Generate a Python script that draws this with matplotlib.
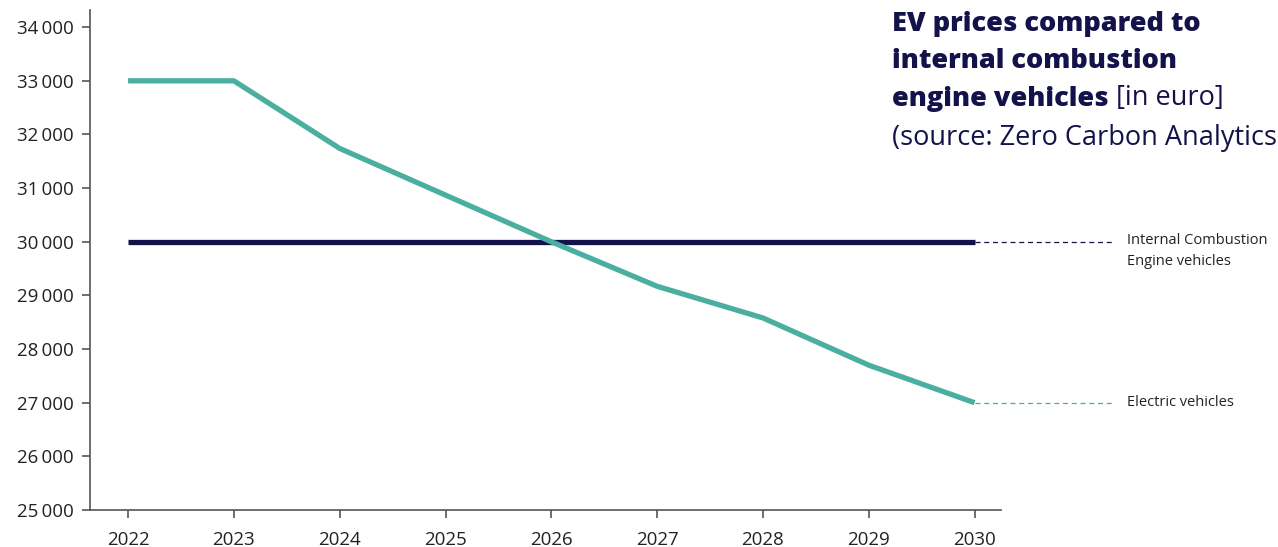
import numpy as np
import matplotlib.pyplot as plt
from matplotlib.ticker import FuncFormatter

plt.rcParams['font.family'] = ['Open Sans', 'DejaVu Sans']

years = [2022, 2023, 2024, 2025, 2026, 2027, 2028, 2029, 2030]
ev_prices = [33000, 33000, 31740, 30870, 30000, 29170, 28580, 27700, 27000]
ice_prices = [30000, 30000, 30000, 30000, 30000, 30000, 30000, 30000, 30000]
y_ticks = list(range(25000, 34001, 1000))

teal = '#4aaf9f'
navy = '#13124a'
grey = '#555555'

fig = plt.figure(figsize=(12.78, 5.47), dpi=100)
ax = fig.add_axes([0.0704, 0.0676, 0.7129, 0.9141])

ax.plot(years, ice_prices, color=navy, lw=3.8, solid_capstyle='butt', zorder=3)
ax.plot(years, ev_prices, color=teal, lw=3.8, solid_capstyle='butt', zorder=4)

ax.set_xlim(2021.64, 2030.25)
ax.set_ylim(25000, 34320)
ax.set_xticks(years)
ax.set_yticks(y_ticks)
ax.yaxis.set_major_formatter(FuncFormatter(lambda v, p: '{:,}'.format(int(v)).replace(',', '\u2009')))

for s in ['top', 'right']:
    ax.spines[s].set_visible(False)
for s in ['left', 'bottom']:
    ax.spines[s].set_color(grey)
    ax.spines[s].set_linewidth(1.2)
ax.tick_params(axis='both', direction='out', length=6, width=1.2, color=grey,
               labelsize=13.5, labelcolor='#222222')
ax.tick_params(axis='x', pad=9)
ax.tick_params(axis='y', pad=6)

# dashed leaders out to the series labels
ax.plot([years[-1], 2031.32], [ice_prices[-1]] * 2, color=navy, lw=0.9,
        ls=(0, (4, 3)), clip_on=False)
ax.plot([years[-1], 2031.32], [ev_prices[-1]] * 2, color=teal, lw=0.9,
        ls=(0, (4, 3)), clip_on=False)
ax.text(2031.44, ice_prices[-1] + 170, 'Internal Combustion\nEngine vehicles', fontsize=10.5,
        color='#222222', va='top', ha='left', linespacing=1.55, clip_on=False)
ax.text(2031.44, ev_prices[-1], 'Electric vehicles', fontsize=10.5, color='#222222',
        va='center', ha='left', clip_on=False)

# title block top right
tx = 892 / 1278
fs = 19.5
step = 37.5
top = 11
t1 = fig.text(tx, 1 - top / 547, 'EV prices compared to', fontsize=fs, fontweight='heavy',
              color=navy, va='top', ha='left')
fig.text(tx, 1 - (top + step) / 547, 'internal combustion', fontsize=fs, fontweight='heavy',
         color=navy, va='top', ha='left')
t3 = fig.text(tx, 1 - (top + 2 * step) / 547, 'engine vehicles', fontsize=fs, fontweight='heavy',
              color=navy, va='top', ha='left')
fig.text(tx, 1 - (top + 3 * step) / 547, '(source: Zero Carbon Analytics', fontsize=fs,
         color=navy, va='top', ha='left')
ax.annotate(' [in euro]', xy=(1, 0), xycoords=t3, fontsize=fs, color=navy,
            va='bottom', ha='left', annotation_clip=False)

fig.savefig('out.png', dpi=100)
